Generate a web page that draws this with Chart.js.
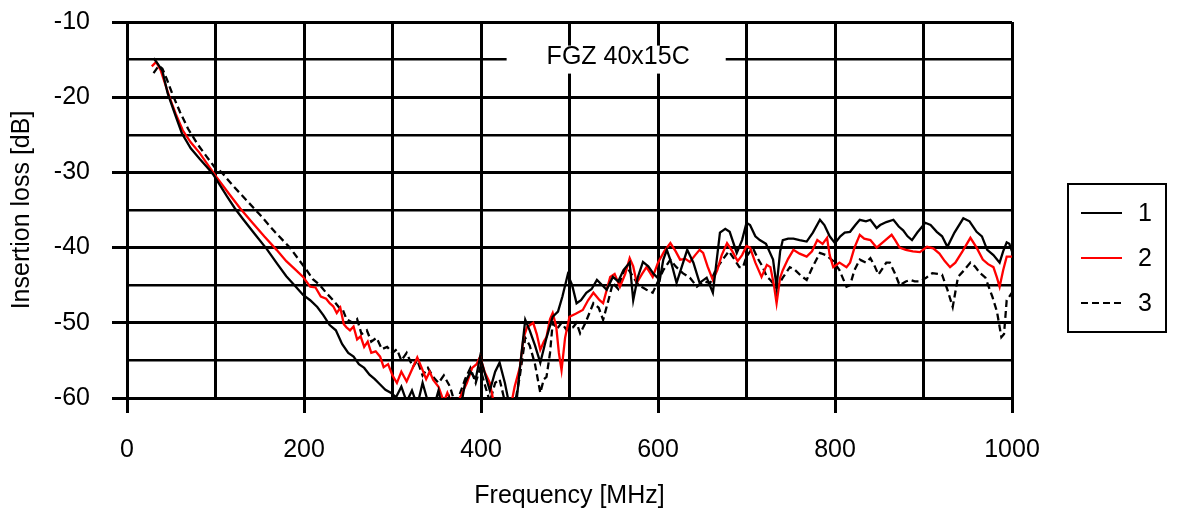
<!DOCTYPE html>
<html>
<head>
<meta charset="utf-8">
<script src="https://cdn.jsdelivr.net/npm/chart.js@4.4.1/dist/chart.umd.min.js"></script>
<style>
  body { margin: 0; background: #fff; }
</style>
</head>
<body>
<canvas id="myChart" width="1177" height="516"></canvas>
<script>
// series 1 (solid black)
var freq1 = [30,35,40,46,55,62,72,82,92,97,105,113,122,131,145,158,170,180,190,199,207,215,222,229,236,243,250,256,262,268,274,280,286,292,298,304,310,316,322,328,334,340,346,352,358,364,370,376,382,388,394,399,405,410,416,421,427,433,438,444,450,455,461,467,474,481,487,492,498,503,508,513,519,525,531,537,542,549,555,561,568,572,577,583,589,595,602,606,610,615,621,627,633,640,647,655,662,666,670,676,681,689,695,700,704,710,715,722,730,734,738,741,747,753,760,768,775,783,788,794,800,806,811,817,823,828,835,840,847,851,858,866,872,877,882,887,893,902,908,915,921,927,935,945,952,960,966,972,979,986,990,994,997,1000];
var loss1 = [-14.8,-15.6,-16.5,-19.5,-22.5,-24.8,-26.8,-28.2,-29.5,-30.2,-31.7,-33.2,-34.8,-36.2,-38.3,-40.2,-42.2,-43.8,-45.1,-46.3,-47.0,-47.9,-49.0,-50.3,-51.0,-52.8,-54.0,-54.5,-55.5,-56.0,-56.9,-57.5,-58.2,-58.9,-59.3,-59.9,-58.5,-60.5,-59.0,-61.0,-58.0,-60.5,-61.5,-59.0,-62.5,-60.0,-63.0,-62.0,-58.0,-56.5,-57.5,-54.5,-57.0,-59.0,-56.5,-55.3,-58.0,-61.5,-63.0,-56.0,-49.6,-51.0,-53.0,-55.3,-52.0,-49.2,-48.5,-46.5,-43.6,-45.0,-47.4,-47.0,-46.0,-45.5,-44.3,-45.0,-45.6,-43.9,-44.5,-43.0,-42.0,-47.0,-44.0,-41.9,-42.5,-43.5,-44.3,-41.6,-40.3,-42.0,-44.7,-42.5,-40.3,-42.0,-44.7,-44.0,-46.0,-42.0,-38.0,-37.5,-37.9,-40.7,-39.0,-36.7,-37.0,-38.5,-39.0,-39.5,-41.6,-45.2,-40.5,-39.0,-38.8,-38.8,-39.0,-39.2,-38.0,-36.3,-37.0,-38.5,-39.4,-38.5,-38.0,-37.9,-37.0,-36.3,-36.5,-36.3,-37.4,-37.0,-36.6,-36.3,-37.2,-37.7,-38.5,-39.0,-38.0,-36.7,-37.0,-37.9,-38.5,-39.9,-38.0,-36.1,-36.5,-37.9,-38.5,-40.3,-41.0,-42.0,-40.5,-39.3,-39.5,-40.5];

// series 2 (red)
var freq2 = [28,33,38,48,55,63,72,82,92,101,115,128,141,155,169,180,190,199,207,213,219,225,229,233,237,241,245,248,252,256,260,264,268,272,276,281,286,290,295,300,305,310,316,322,328,333,338,342,346,352,358,362,368,374,380,384,390,395,399,404,410,415,421,427,433,438,444,448,452,459,463,467,471,474,478,481,485,488,491,495,500,507,515,521,527,534,538,546,551,557,563,568,572,576,582,587,594,600,607,614,620,625,631,636,642,647,651,656,662,667,672,678,684,690,695,700,704,710,717,723,727,731,734,738,741,747,753,760,768,774,780,786,791,794,798,805,813,817,822,828,833,840,847,855,864,868,873,880,888,896,904,911,918,924,930,936,944,953,960,967,973,979,983,986,990,994,1000];
var loss2 = [-15.9,-15.3,-16.4,-20.0,-22.2,-24.4,-26.0,-27.4,-29.1,-30.6,-32.8,-34.8,-36.6,-38.5,-40.3,-41.8,-42.9,-43.9,-45.2,-45.3,-46.5,-46.8,-47.4,-47.8,-48.7,-48.0,-50.2,-50.6,-51.0,-50.5,-52.2,-51.8,-53.2,-52.5,-54.0,-53.8,-54.5,-55.9,-55.5,-57.0,-58.0,-56.5,-57.8,-56.2,-54.6,-56.0,-57.5,-56.5,-57.6,-58.5,-60.5,-59.3,-61.0,-60.5,-59.0,-58.0,-56.0,-55.5,-54.5,-56.5,-58.0,-61.0,-63.0,-62.0,-61.5,-58.5,-55.9,-52.0,-50.6,-50.0,-51.5,-53.6,-52.5,-51.9,-49.5,-48.7,-50.5,-54.0,-56.3,-52.0,-49.2,-48.8,-48.3,-47.0,-46.0,-47.0,-47.4,-43.9,-43.5,-45.2,-43.5,-41.4,-42.5,-44.7,-43.5,-42.6,-43.9,-42.0,-40.5,-39.4,-40.5,-41.6,-41.5,-41.9,-41.0,-40.3,-40.7,-42.5,-44.3,-43.0,-41.0,-39.4,-40.5,-41.8,-41.0,-39.8,-40.0,-42.0,-43.9,-42.3,-42.6,-45.0,-47.4,-44.0,-43.0,-41.5,-40.3,-40.8,-41.2,-40.5,-39.0,-39.5,-38.7,-41.0,-42.6,-42.0,-42.6,-42.0,-40.0,-38.3,-38.8,-39.0,-40.0,-39.2,-38.3,-39.0,-40.0,-40.3,-40.5,-40.6,-39.9,-40.1,-40.8,-41.8,-42.6,-42.0,-40.5,-38.7,-40.0,-41.6,-42.2,-42.6,-44.0,-45.2,-43.0,-41.2,-41.2];

// series 3 (dashed black)
var freq3 = [30,36,40,45,51,60,69,80,90,99,107,120,135,150,167,184,203,210,218,225,233,240,244,248,255,260,265,271,276,282,288,294,300,305,310,316,323,328,334,340,346,352,358,365,370,376,382,388,394,399,405,410,416,421,427,433,438,444,450,455,461,467,471,474,478,481,486,491,497,504,508,512,518,527,533,538,544,549,555,560,565,572,578,587,594,600,606,614,620,628,636,644,651,659,665,673,680,686,692,696,700,707,713,718,723,727,734,741,749,755,762,768,775,783,790,798,805,813,817,822,828,835,840,845,849,858,862,868,873,880,885,890,896,903,910,916,921,927,933,939,946,953,958,964,970,978,983,988,991,994,1000];
var loss3 = [-16.8,-15.8,-16.2,-17.6,-19.5,-22.0,-24.2,-26.3,-27.9,-29.3,-30.0,-31.8,-33.7,-35.6,-37.9,-40.0,-43.0,-44.2,-45.0,-46.0,-47.0,-48.0,-48.3,-49.5,-50.0,-49.5,-51.5,-51.0,-52.5,-52.0,-53.5,-53.2,-54.0,-53.5,-55.0,-54.0,-55.9,-55.0,-57.0,-56.0,-57.2,-58.0,-57.0,-58.5,-60.5,-59.5,-57.5,-56.0,-58.0,-56.0,-58.5,-60.5,-58.0,-57.5,-60.5,-63.0,-61.0,-57.0,-52.0,-53.0,-55.5,-59.3,-57.5,-57.2,-54.0,-50.0,-50.8,-50.0,-51.0,-50.6,-50.0,-51.4,-50.0,-47.4,-48.0,-49.6,-47.0,-44.7,-45.5,-43.5,-42.6,-43.9,-45.0,-45.6,-46.0,-44.5,-43.0,-41.6,-42.5,-43.4,-44.0,-45.2,-44.5,-44.7,-43.0,-41.6,-40.5,-41.5,-42.6,-42.6,-41.2,-40.0,-41.5,-42.5,-43.9,-44.3,-45.4,-44.0,-42.6,-43.0,-43.8,-44.3,-42.5,-40.7,-41.0,-41.8,-43.0,-45.2,-45.0,-43.0,-41.6,-42.0,-41.4,-42.5,-43.6,-42.0,-42.0,-43.5,-45.0,-44.5,-44.3,-44.5,-44.5,-44.0,-43.4,-43.5,-43.6,-45.6,-47.9,-43.9,-43.0,-42.0,-42.5,-43.4,-44.0,-46.6,-48.5,-51.9,-51.5,-47.0,-46.0];

var seriesNames = ["1", "2", "3"];
var chartTitle = "FGZ 40x15C";
var xTickLabels = ["0", "200", "400", "600", "800", "1000"];
var yTickLabels = ["-10", "-20", "-30", "-40", "-50", "-60"];

function pairs(xs, ys) {
  var out = [];
  for (var i = 0; i < xs.length; i++) out.push({x: xs[i], y: ys[i]});
  return out;
}

var font = "Liberation Sans, Arial, sans-serif";
var fsize = 25;

// title box and framed legend drawn on the canvas
var extras = {
  id: "extras",
  afterDraw: function(chart) {
    var ctx = chart.ctx;
    var xs = chart.scales.x, ys = chart.scales.y;
    ctx.save();
    ctx.font = fsize + "px " + font;
    var cx = xs.getPixelForValue(555);
    var cy = ys.getPixelForValue(-15);
    var w = ctx.measureText(chartTitle).width + 76;
    ctx.fillStyle = "#fff";
    ctx.fillRect(cx - w / 2 - 2, cy - 14, w, 28);
    ctx.fillStyle = "#000";
    ctx.textAlign = "center";
    ctx.textBaseline = "middle";
    ctx.fillText(chartTitle, cx, cy - 2);

    // legend
    var bx = 1068, by = 184, bw = 98, bh = 148;
    ctx.lineWidth = 2;
    ctx.strokeStyle = "#000";
    ctx.strokeRect(bx, by, bw, bh);
    chart.data.datasets.forEach(function(ds, i) {
      var y = by + 29 + i * 45;
      ctx.beginPath();
      ctx.setLineDash(ds.borderDash || []);
      ctx.strokeStyle = ds.borderColor;
      ctx.lineWidth = 2;
      ctx.moveTo(bx + 13, y);
      ctx.lineTo(bx + 54, y);
      ctx.stroke();
      ctx.setLineDash([]);
      ctx.fillStyle = "#000";
      ctx.textAlign = "center";
      ctx.fillText(ds.label, bx + 77, y + 1);
    });
    ctx.restore();
  }
};

new Chart("myChart", {
  type: "line",
  data: {
    datasets: [
      {label: seriesNames[0], data: pairs(freq1, loss1), borderColor: "#000", borderWidth: 2.3},
      {label: seriesNames[1], data: pairs(freq2, loss2), borderColor: "#ff0000", borderWidth: 2.3},
      {label: seriesNames[2], data: pairs(freq3, loss3), borderColor: "#000", borderWidth: 2.3, borderDash: [7, 4]}
    ]
  },
  options: {
    responsive: false,
    animation: false,
    layout: {padding: {left: 0, right: 165, top: 22, bottom: 0}},
    elements: {point: {radius: 0}, line: {tension: 0}},
    plugins: {legend: {display: false}, tooltip: {enabled: false}, title: {display: false}},
    scales: {
      x: {
        type: "linear",
        min: 0, max: 1000,
        afterFit: function(s) { s.height = 118; },
        border: {color: "#000", width: 3},
        grid: {
          color: "#000", lineWidth: 3, tickLength: 15,
          tickColor: function(c) { return c.tick && c.tick.value % 200 === 0 ? "#000" : "rgba(0,0,0,0)"; }
        },
        ticks: {
          stepSize: 100, maxRotation: 0, autoSkip: false, padding: 22,
          color: "#000", font: {family: font, size: fsize},
          callback: function(v) { return v % 200 === 0 ? xTickLabels[v / 200] : ""; }
        },
        title: {display: true, text: "Frequency [MHz]", color: "#000", font: {family: font, size: fsize}, padding: {top: 0, bottom: 5}}
      },
      y: {
        min: -60, max: -10,
        afterFit: function(s) { s.width = 127; s.paddingTop = 0; },
        border: {color: "#000", width: 3},
        grid: {
          color: "#000",
          lineWidth: function(c) { return c.tick && c.tick.value % 10 === 0 ? 3 : 2.5; },
          tickLength: 15,
          tickColor: function(c) { return c.tick && c.tick.value % 10 === 0 ? "#000" : "rgba(0,0,0,0)"; }
        },
        ticks: {
          stepSize: 5, autoSkip: false, padding: 22,
          color: "#000", font: {family: font, size: fsize},
          callback: function(v) { return v % 10 === 0 ? yTickLabels[(-10 - v) / 10] : ""; }
        },
        title: {display: true, text: "Insertion loss [dB]", color: "#000", font: {family: font, size: fsize}, padding: {top: 7, bottom: 0}}
      }
    }
  },
  plugins: [extras]
});
</script>
</body>
</html>
